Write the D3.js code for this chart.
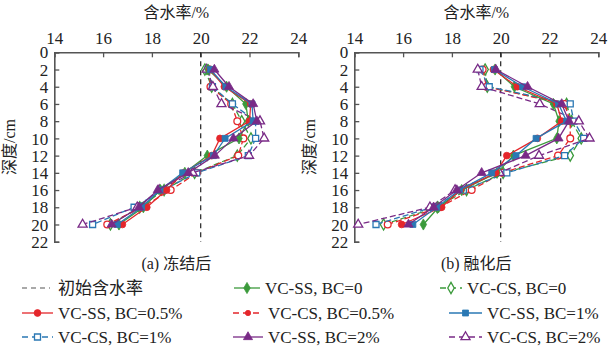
<!DOCTYPE html>
<html>
<head>
<meta charset="utf-8">
<script src="https://cdn.jsdelivr.net/npm/d3@7"></script>
<style>
  body { margin: 0; background: #fff; }
  svg { display: block; }
  text { font-family: "Liberation Serif", "Noto Sans CJK SC", serif; fill: #222; }
  .cjk { font-family: "Liberation Serif", "Noto Sans CJK SC", sans-serif; }
</style>
</head>
<body>
<svg width="608" height="350"></svg>
<script>
// depth (cm) of each measuring point
const depths = [2, 4, 6, 8, 10, 12, 14, 16, 18, 20];
const xTicks = [14, 16, 18, 20, 22, 24];
const yTicks = [0, 2, 4, 6, 8, 10, 12, 14, 16, 18, 20, 22];
const initialMoisture = 20;

// (a) after freezing
const frozenSS0  = [20.30, 21.06, 21.85, 21.95, 21.57, 20.27, 19.35, 18.35, 17.65, 16.65];
const frozenCS0  = [20.17, 20.45, 21.30, 21.68, 22.06, 21.50, 19.75, 18.50, 17.50, 16.30];
const frozenSS05 = [20.38, 20.97, 22.05, 22.00, 20.79, 20.45, 19.30, 18.60, 17.79, 16.79];
const frozenCS05 = [20.35, 20.40, 21.25, 21.50, 21.75, 21.54, 19.85, 18.77, 17.60, 16.17];
const frozenSS1  = [20.40, 21.03, 22.10, 22.15, 21.00, 20.52, 19.26, 18.33, 17.58, 16.58];
const frozenCS1  = [20.30, 20.48, 21.30, 22.25, 22.25, 21.95, 19.84, 18.45, 17.27, 15.57];
const frozenSS2  = [20.56, 21.16, 22.15, 22.30, 21.34, 20.58, 19.49, 18.24, 17.47, 16.35];
const frozenCS2  = [20.25, 20.50, 20.85, 22.43, 22.60, 21.98, 19.67, 18.30, 17.40, 15.16];

// (b) after thawing
const thawedSS0  = [19.77, 20.56, 22.16, 22.39, 22.30, 20.52, 19.85, 18.40, 17.45, 16.83];
const thawedCS0  = [19.36, 19.45, 22.70, 22.90, 23.30, 22.85, 20.10, 18.60, 17.40, 15.20];
const thawedSS05 = [19.70, 20.68, 22.30, 22.50, 21.50, 20.25, 19.80, 18.35, 17.58, 15.94];
const thawedCS05 = [19.26, 19.42, 22.62, 22.85, 22.85, 22.35, 20.05, 18.81, 17.50, 15.37];
const thawedSS1  = [19.74, 20.90, 22.37, 22.70, 21.45, 20.63, 19.63, 18.31, 17.38, 16.40];
const thawedCS1  = [19.15, 19.53, 22.85, 23.00, 23.40, 22.62, 20.25, 18.47, 17.20, 14.89];
const thawedSS2  = [19.80, 21.10, 22.50, 22.80, 22.37, 21.02, 19.22, 18.20, 17.25, 16.22];
const thawedCS2  = [19.06, 19.22, 21.60, 23.20, 23.64, 21.57, 19.95, 18.13, 17.10, 14.16];

const seriesNames = ["VC-SS, BC=0", "VC-CS, BC=0", "VC-SS, BC=0.5%", "VC-CS, BC=0.5%",
                     "VC-SS, BC=1%", "VC-CS, BC=1%", "VC-SS, BC=2%", "VC-CS, BC=2%"];
const colors = ["#3b9a3b", "#3b9a3b", "#e4262b", "#e4262b", "#2a78b4", "#2a78b4", "#792a86", "#792a86"];
const shapes = ["diamond", "diamond", "circle", "circle", "square", "square", "triangle", "triangle"];
const filled = [true, false, true, false, true, false, true, false];

const panels = [
  { caption: "(a) 冻结后", left: 54.3, series: [frozenSS0, frozenCS0, frozenSS05, frozenCS05, frozenSS1, frozenCS1, frozenSS2, frozenCS2] },
  { caption: "(b) 融化后", left: 354.3, series: [thawedSS0, thawedCS0, thawedSS05, thawedCS05, thawedSS1, thawedCS1, thawedSS2, thawedCS2] }
];

const svg = d3.select("svg");
const plotW = 244, plotTop = 52.3, plotBottom = 241.7;

const y = d3.scaleLinear().domain([0, 22]).range([plotTop, plotBottom]);

function symbolPath(shape, size) {
  const types = { circle: d3.symbolCircle, square: d3.symbolSquare, triangle: d3.symbolTriangle, diamond: d3.symbolDiamond };
  return d3.symbol().type(types[shape]).size(size || 36)();
}

function drawMarker(g, cx, cy, i, solid, size) {
  const isFilled = solid === undefined ? filled[i] : solid;
  g.append("path")
    .attr("d", symbolPath(shapes[i], size))
    .attr("transform", `translate(${cx},${cy})`)
    .attr("fill", isFilled ? colors[i] : "#fff")
    .attr("stroke", colors[i])
    .attr("stroke-width", isFilled ? 0.8 : 1.3);
}

panels.forEach(p => {
  const x = d3.scaleLinear().domain([14, 24]).range([p.left, p.left + plotW]);
  const g = svg.append("g");

  // top axis
  const xAxis = d3.axisTop(x).tickValues(xTicks).tickSize(-5).tickPadding(8).tickFormat(d3.format("d"));
  const ax = g.append("g").attr("transform", `translate(0,${plotTop})`).call(xAxis);
  ax.select(".domain").attr("stroke", "#555").attr("stroke-width", 1.6);
  ax.selectAll(".tick line").attr("stroke", "#555").attr("stroke-width", 1.3);
  ax.selectAll("text").attr("font-size", 17).attr("fill", "#222")
    .style("font-family", "'Liberation Serif', serif");

  // left axis
  const yAxis = d3.axisLeft(y).tickValues(yTicks).tickSize(-5).tickPadding(6).tickFormat(d3.format("d"));
  const ay = g.append("g").attr("transform", `translate(${p.left},0)`).call(yAxis);
  ay.select(".domain").attr("stroke", "#555").attr("stroke-width", 1.6);
  ay.selectAll(".tick line").attr("stroke", "#555").attr("stroke-width", 1.3);
  ay.selectAll("text").attr("font-size", 17).attr("fill", "#222").attr("dy", "0.33em")
    .style("font-family", "'Liberation Serif', serif");

  // titles
  g.append("text").attr("class", "cjk").attr("x", p.left + 122).attr("y", 18)
    .attr("text-anchor", "middle").attr("font-size", 16).text("含水率/%");
  g.append("text").attr("class", "cjk")
    .attr("transform", `translate(${p.left - 39},${(plotTop + plotBottom) / 2}) rotate(-90)`)
    .attr("text-anchor", "middle").attr("font-size", 16).text("深度/cm");
  g.append("text").attr("class", "cjk").attr("x", p.left + 122).attr("y", 269)
    .attr("text-anchor", "middle").attr("font-size", 16).text(p.caption);

  // initial moisture reference line
  g.append("line")
    .attr("x1", x(initialMoisture)).attr("x2", x(initialMoisture))
    .attr("y1", plotTop).attr("y2", plotBottom)
    .attr("stroke", "#222").attr("stroke-width", 1.2).attr("stroke-dasharray", "5,4");

  const line = d3.line().x(d => x(d[0])).y(d => y(d[1]));

  // dashed series drawn first, solid ones on top
  const order = [1, 3, 5, 7, 0, 2, 4, 6];
  order.forEach(i => {
    const pts = p.series[i].map((v, k) => [v, depths[k]]);
    g.append("path")
      .datum(pts)
      .attr("d", line)
      .attr("fill", "none")
      .attr("stroke", colors[i])
      .attr("stroke-width", 1.3)
      .attr("stroke-dasharray", filled[i] ? null : "6,3");
    pts.forEach(d => drawMarker(g, x(d[0]), y(d[1]), i));
  });
});

// legend
const legendItems = [
  { label: "初始含水率", lx: 22, tx: 58, row: 0, kind: "ref" },
  { label: seriesNames[0], lx: 234, tx: 265, row: 0, idx: 0 },
  { label: seriesNames[1], lx: 440, tx: 467, row: 0, idx: 1 },
  { label: seriesNames[2], lx: 22, tx: 58, row: 1, idx: 2 },
  { label: seriesNames[3], lx: 233, tx: 268, row: 1, idx: 3, solid: true, size: 22 },
  { label: seriesNames[4], lx: 449, tx: 487, row: 1, idx: 4 },
  { label: seriesNames[5], lx: 22, tx: 58, row: 2, idx: 5 },
  { label: seriesNames[6], lx: 233, tx: 268, row: 2, idx: 6 },
  { label: seriesNames[7], lx: 449, tx: 487, row: 2, idx: 7 }
];
const rowY = [288, 313, 337];

const lg = svg.append("g");
legendItems.forEach(it => {
  const cy = rowY[it.row];
  const lineW = it.tx - it.lx - 5;
  if (it.kind === "ref") {
    lg.append("line").attr("x1", it.lx).attr("x2", it.lx + 28).attr("y1", cy).attr("y2", cy)
      .attr("stroke", "#555").attr("stroke-width", 1.2).attr("stroke-dasharray", "5,4");
  } else {
    const i = it.idx;
    lg.append("line").attr("x1", it.lx).attr("x2", it.lx + lineW).attr("y1", cy).attr("y2", cy)
      .attr("stroke", colors[i]).attr("stroke-width", 1.3)
      .attr("stroke-dasharray", filled[i] ? null : "6,4");
    drawMarker(lg, it.lx + lineW / 2, cy, i, it.solid, it.size);
  }
  lg.append("text").attr("class", it.kind === "ref" ? "cjk" : null)
    .attr("x", it.tx).attr("y", cy).attr("dy", "0.35em")
    .attr("font-size", 17).text(it.label);
});
</script>
</body>
</html>
